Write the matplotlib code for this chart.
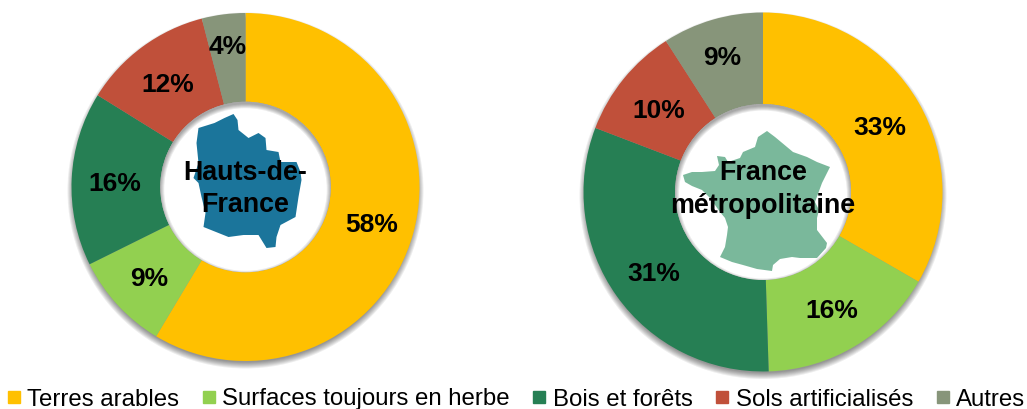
import matplotlib
matplotlib.use('Agg')
import matplotlib.pyplot as plt
from matplotlib.patches import Circle, Polygon, Wedge
from matplotlib.lines import Line2D
import numpy as np

plt.rcParams['font.family'] = ['Liberation Sans', 'DejaVu Sans']

W, H = 1027, 409

categories = ['Terres arables', 'Surfaces toujours en herbe', 'Bois et forêts',
              'Sols artificialisés', 'Autres']
colors = ['#FFC000', '#92D050', '#267F54', '#C0503A', '#87957A']

hdf_values = [58, 9, 16, 12, 4]
france_values = [33, 16, 31, 10, 9]

# outlines of the two maps, in pixels relative to the donut centre
hdf_x = [-47, -31, -21, -12, -8, -7, 3, 13, 20, 21, 33, 35, 51, 55, 56, 53, 50, 35, 31, 30, 21, 13, -2, -17, -42, -40, -44, -47, -52, -47, -49]
hdf_y = [-59, -64, -69, -73, -67, -57, -49, -54, -49, -37, -35, -25, -25, -15, -7, 10, 30, 38, 50, 60, 61, 48, 48, 50, 40, 26, 10, -4, -9, -24, -44]
fr_x = [-80, -71, -61, -48, -44, -46, -38, -35, -23, -20, -8, -5, 4, 12, 24, 30, 44, 54, 67, 63, 59, 52, 56, 54, 54, 64, 63, 54, 37, 29, 17, 10, 9, -6, -20, -31, -43, -38, -36, -35, -38, -43, -53, -61, -71, -78]
fr_y = [-17, -20, -20, -21, -27, -36, -35, -30, -34, -40, -45, -55, -61, -55, -45, -40, -35, -30, -25, -17, -9, 10, 18, 26, 38, 51, 56, 66, 66, 65, 67, 73, 79, 77, 73, 70, 65, 55, 43, 35, 26, 20, 6, -2, -6, -10]


def donut(cx, cy, R, values, title, title_dy, last_r, map_x, map_y, map_color):
    ax = fig.add_axes([(cx - R) / W, 1 - (cy + R) / H, 2 * R / W, 2 * R / H])
    hole = 0.49
    wedges, _ = ax.pie(values, colors=colors, startangle=90, counterclock=False,
                       radius=1, wedgeprops=dict(width=1 - hole, zorder=1))
    ax.set_xlim(-1, 1)
    ax.set_ylim(-1, 1)

    # drop shadow under the ring
    for k in range(7):
        ax.add_patch(Circle((0, -3.5 / R), 1 + (4 - k) / R, color='black', alpha=0.07, lw=0,
                            zorder=0.5, clip_on=False))

    # hole, with the shadow of the ring falling into it
    rim = Circle((0, 0), hole, color='white', lw=0, zorder=1.5)
    ax.add_patch(rim)
    for k in range(5):
        s = Wedge((0, -2.5 / R), 1.5, 0, 360, width=1.5 - hole + k / R, color='black',
                  alpha=0.08, lw=0, zorder=1.6)
        ax.add_patch(s)
        s.set_clip_path(rim)

    for i, (w, v) in enumerate(zip(wedges, values)):
        ang = np.deg2rad((w.theta1 + w.theta2) / 2)
        r = last_r if i == len(values) - 1 else 0.75
        ax.text(r * np.cos(ang), r * np.sin(ang) - 3.5 / R, str(v) + '%', ha='center', va='center',
                fontsize=19, fontweight='bold', color='black', zorder=3)

    pts = np.column_stack([np.array(map_x) / R, -np.array(map_y) / R])
    ax.add_patch(Polygon(pts, closed=True, color=map_color, lw=0, zorder=2))
    ax.text(0, title_dy / R, title, ha='center', va='center', fontsize=19.4, fontweight='bold',
            linespacing=1.35, zorder=3)
    return ax


fig = plt.figure(figsize=(W / 100, H / 100), dpi=100)

donut(245.5, 187, 174, hdf_values, 'Hauts-de-\nFrance', -2, 0.83, hdf_x, hdf_y, '#1B759B')
donut(763, 192, 179.5, france_values, 'France\nmétropolitaine', 2.5, 0.80, fr_x, fr_y, '#7AB89B')

handles = [Line2D([], [], ls='', marker='s', ms=8.5, color=c) for c in colors]
fig.legend(handles, categories, ncol=5, loc='lower left', bbox_to_anchor=(7 / W, -1.5 / H),
           frameon=False, fontsize=17.3, handlelength=0.55, handletextpad=0.27,
           columnspacing=0.975, borderpad=0, borderaxespad=0)

fig.savefig('out.png', dpi=100)
